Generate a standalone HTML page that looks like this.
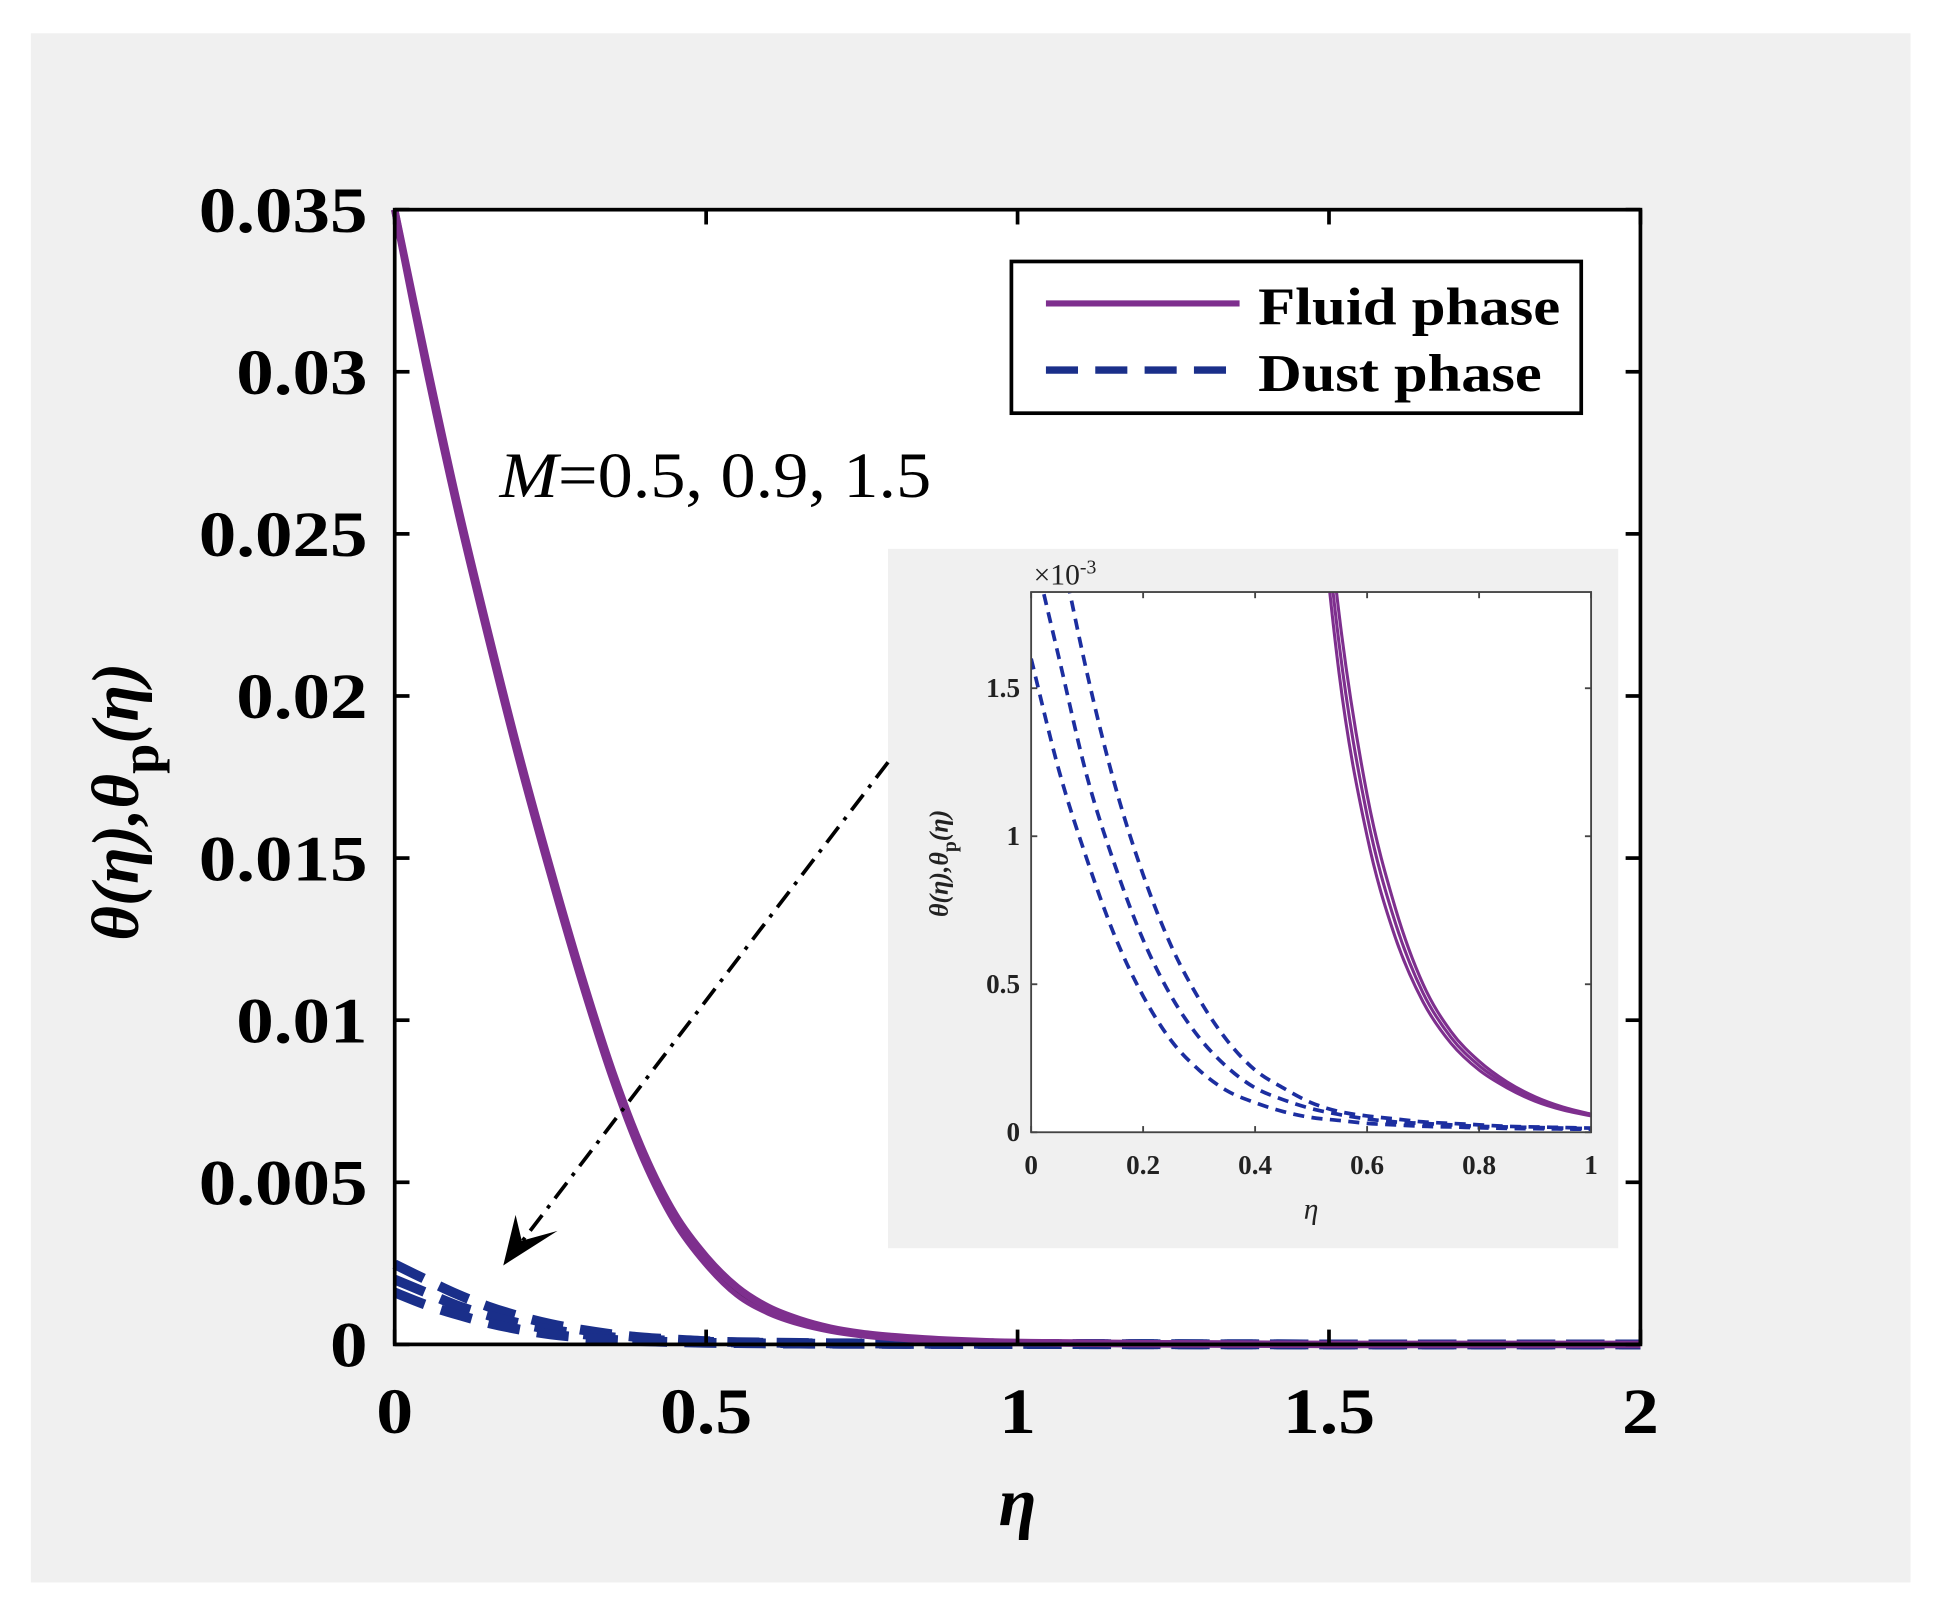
<!DOCTYPE html>
<html><head><meta charset="utf-8"><style>
html,body{margin:0;padding:0;background:#fff;}
svg{display:block;}
text{font-family:"Liberation Serif",serif;}
</style></head><body>
<svg id="chart" width="1934" height="1624" viewBox="0 0 1568 1316.7" xmlns="http://www.w3.org/2000/svg">
<rect x="25" y="27" width="1524" height="1256" fill="#f0f0f0"/>
<rect x="320" y="170" width="1010" height="920" fill="#fff"/>
<g id="main"></g>
<g id="legend">
<rect x="820" y="212" width="462" height="123" fill="#fff" stroke="#000" stroke-width="3"/>
<line x1="848" y1="246" x2="1005" y2="246" stroke="#7e2f8e" stroke-width="5"/>
<text x="1020" y="263" font-size="43" font-weight="bold" textLength="245" lengthAdjust="spacingAndGlyphs">Fluid phase</text>
<line x1="848" y1="300" x2="1005" y2="300" stroke="#1a2f8a" stroke-width="6" stroke-dasharray="26,14"/>
<text x="1020" y="317" font-size="43" font-weight="bold" textLength="230" lengthAdjust="spacingAndGlyphs">Dust phase</text>
</g>
<text x="405" y="403" font-size="52" textLength="350" lengthAdjust="spacingAndGlyphs"><tspan font-style="italic">M</tspan>=0.5, 0.9, 1.5</text>
<rect x="720" y="445" width="592" height="567" fill="#f0f0f0"/>
<rect x="836" y="480" width="454" height="438" fill="#fff"/>
<g id="inset"></g>
<g>
<line x1="720" y1="618" x2="416" y2="1016" stroke="#000" stroke-width="3" stroke-dasharray="16,7,3,7"/>
<path d="M408,1026 L418,985 L423,1006 L452,998 Z" fill="#000"/>
</g>
<text x="825" y="1237" font-size="56" font-style="italic" font-weight="bold" text-anchor="middle">η</text>
<text transform="translate(112,650) rotate(-90)" font-size="54" font-style="italic" font-weight="bold" text-anchor="middle">θ(η),θ<tspan dy="16" font-style="normal" font-size="44">p</tspan><tspan dy="-16">(η)</tspan></text>
</svg>
<script>
const etaGrid=[0,0.05,0.1,0.15,0.2,0.25,0.3,0.35,0.4,0.45,0.5,0.55,0.6,0.65,0.7,0.75,0.8,0.85,0.9,0.95,1,1.2,1.5,2];
const fluidM05=[0.035,0.0302,0.0258,0.0218,0.0180,0.0145,0.0112,0.0082,0.0057,0.0038,0.0025,0.00155,0.00100,0.00066,0.00044,0.00030,0.00021,0.00015,0.000105,0.000075,0.000055,0.00002,0,0];
const fluidM09=[0.035,0.0303,0.0259,0.0219,0.0181,0.0146,0.0113,0.0083,0.0058,0.0039,0.0026,0.00165,0.00107,0.00071,0.00047,0.00032,0.000225,0.00016,0.000112,0.00008,0.000058,0.00002,0,0];
const fluidM15=[0.035,0.0304,0.0260,0.0220,0.0182,0.0147,0.0114,0.0084,0.0059,0.0040,0.0027,0.00175,0.00114,0.00076,0.00050,0.00034,0.00024,0.00017,0.00012,0.000085,0.000061,0.00002,0,0];
const dustM05=[0.00247,0.0020,0.00155,0.00117,0.00087,0.00063,0.00045,0.00031,0.00021,0.00015,0.00010,0.00007,0.000055,0.000045,0.000035,0.00003,0.000025,0.00002,0.000018,0.000016,0.000014,0.000007,0,0];
const dustM09=[0.0020,0.0016,0.0012,0.0009,0.00065,0.00046,0.00032,0.00022,0.00015,0.00011,0.00008,0.00006,0.000045,0.000035,0.00003,0.000025,0.00002,0.000018,0.000016,0.000014,0.000012,0.000006,0,0];
const dustM15=[0.0016,0.00122,0.00092,0.00066,0.00046,0.00031,0.00021,0.00014,0.00010,0.00007,0.00005,0.00004,0.00003,0.000025,0.00002,0.000018,0.000015,0.000013,0.000012,0.000011,0.00001,0.000005,0,0];
const mainYTicks=[0,0.005,0.01,0.015,0.02,0.025,0.03,0.035];
const mainYLabels=["0","0.005","0.01","0.015","0.02","0.025","0.03","0.035"];
const mainXTicks=[0,0.5,1,1.5,2];
const mainXLabels=["0","0.5","1","1.5","2"];
const insetXTicks=[0,0.2,0.4,0.6,0.8,1];
const insetXLabels=["0","0.2","0.4","0.6","0.8","1"];
const insetYTicks=[0,0.0005,0.001,0.0015];
const insetYLabels=["0","0.5","1","1.5"];

const NS="http://www.w3.org/2000/svg";
function mk(p,t,a){const e=document.createElementNS(NS,t);for(const k in a)e.setAttribute(k,a[k]);p.appendChild(e);return e;}
function widen(t,f){const w=t.getComputedTextLength();t.setAttribute('textLength',w*f);t.setAttribute('lengthAdjust','spacingAndGlyphs');}
function pathD(xs,ys,X,Y,xmax){
  const pts=[];for(let i=0;i<xs.length;i++){if(xs[i]>xmax+1e-9)break;pts.push([X(xs[i]),Y(ys[i])]);}
  let d="M"+pts[0][0]+","+pts[0][1];
  for(let i=0;i<pts.length-1;i++){const p0=pts[Math.max(0,i-1)],p1=pts[i],p2=pts[i+1],p3=pts[Math.min(pts.length-1,i+2)];
    d+=" C"+(p1[0]+(p2[0]-p0[0])/6)+","+(p1[1]+(p2[1]-p0[1])/6)+" "+(p2[0]-(p3[0]-p1[0])/6)+","+(p2[1]-(p3[1]-p1[1])/6)+" "+p2[0]+","+p2[1];}
  return d;}
const main=document.getElementById('main');
const mx=v=>320+v/2*1010, my=v=>1090-v/0.035*920;
const fluids=[fluidM05,fluidM09,fluidM15], dusts=[dustM05,dustM09,dustM15];
dusts.forEach((s,i)=>{const p=mk(main,'path',{d:pathD(etaGrid,s,mx,my,2),fill:'none',stroke:'#1a2f8a','stroke-width':8,'stroke-dasharray':'26,14'});

});
fluids.forEach((s,i)=>{const p=mk(main,'path',{d:pathD(etaGrid,s,mx,my,2),fill:'none',stroke:i==1?'#2a0f30':'#7e2f8e','stroke-width':i==1?2:6});

});
const mf=mk(main,'rect',{x:320,y:170,width:1010,height:920,fill:'none',stroke:'#000','stroke-width':3});


mainYTicks.forEach((v,i)=>{const y=my(v);
 mk(main,'line',{x1:320,y1:y,x2:332,y2:y,stroke:'#000','stroke-width':3});
 mk(main,'line',{x1:1318,y1:y,x2:1330,y2:y,stroke:'#000','stroke-width':3});
 const t=mk(main,'text',{x:298,y:y+18,'font-size':52,'font-weight':'bold','text-anchor':'end'});t.textContent=mainYLabels[i];
 
 
 widen(t,1.17);});
mainXTicks.forEach((v,i)=>{const x=mx(v);
 mk(main,'line',{x1:x,y1:1090,x2:x,y2:1078,stroke:'#000','stroke-width':3});
 mk(main,'line',{x1:x,y1:170,x2:x,y2:182,stroke:'#000','stroke-width':3});
 const t=mk(main,'text',{x:x,y:1162,'font-size':52,'font-weight':'bold','text-anchor':'middle'});t.textContent=mainXLabels[i];
 
 
 widen(t,1.15);});
const ins=document.getElementById('inset');
const ix=v=>836+v*454, iy=v=>918-v/0.0005*120;
const clip=mk(ins,'clipPath',{id:'ic'});mk(clip,'rect',{x:836,y:480,width:454,height:438});
const g=mk(ins,'g',{'clip-path':'url(#ic)'});
dusts.forEach((s,i)=>{const p=mk(g,'path',{d:pathD(etaGrid,s,ix,iy,1),fill:'none',stroke:'#1c2ea0','stroke-width':3,'stroke-dasharray':'9,6'});

});
fluids.forEach((s,i)=>{const p=mk(g,'path',{d:pathD(etaGrid,s,ix,iy,1),fill:'none',stroke:'#7e2f8e','stroke-width':2.5});

});
const inf=mk(ins,'rect',{x:836,y:480,width:454,height:438,fill:'none',stroke:'#444','stroke-width':1.5});


insetYTicks.forEach((v,i)=>{const y=iy(v);
 mk(ins,'line',{x1:836,y1:y,x2:841,y2:y,stroke:'#444','stroke-width':1.5});
 mk(ins,'line',{x1:1285,y1:y,x2:1290,y2:y,stroke:'#444','stroke-width':1.5});
 const t=mk(ins,'text',{x:827,y:y+7,'font-size':22,'font-weight':'bold','text-anchor':'end',fill:'#222'});t.textContent=insetYLabels[i];
 
 });
insetXTicks.forEach((v,i)=>{const x=ix(v);
 mk(ins,'line',{x1:x,y1:918,x2:x,y2:913,stroke:'#444','stroke-width':1.5});
 mk(ins,'line',{x1:x,y1:480,x2:x,y2:485,stroke:'#444','stroke-width':1.5});
 const t=mk(ins,'text',{x:x,y:952,'font-size':22,'font-weight':'bold','text-anchor':'middle',fill:'#222'});t.textContent=insetXLabels[i];
 
 });
const ex=mk(ins,'text',{x:838,y:474,'font-size':24,fill:'#222'});ex.innerHTML='×10<tspan dy="-9" font-size="16">-3</tspan>';


const ixt=mk(ins,'text',{x:1063,y:988,'font-size':24,'font-style':'italic',fill:'#222','text-anchor':'middle'});ixt.textContent='η';


const iyt=mk(ins,'text',{transform:'translate(768,700) rotate(-90)','font-size':21,'font-style':'italic','font-weight':'bold',fill:'#222','text-anchor':'middle'});
iyt.innerHTML='θ(η),θ<tspan dy="7" font-style="normal" font-size="16">p</tspan><tspan dy="-7">(η)</tspan>';


</script>
</body></html>
